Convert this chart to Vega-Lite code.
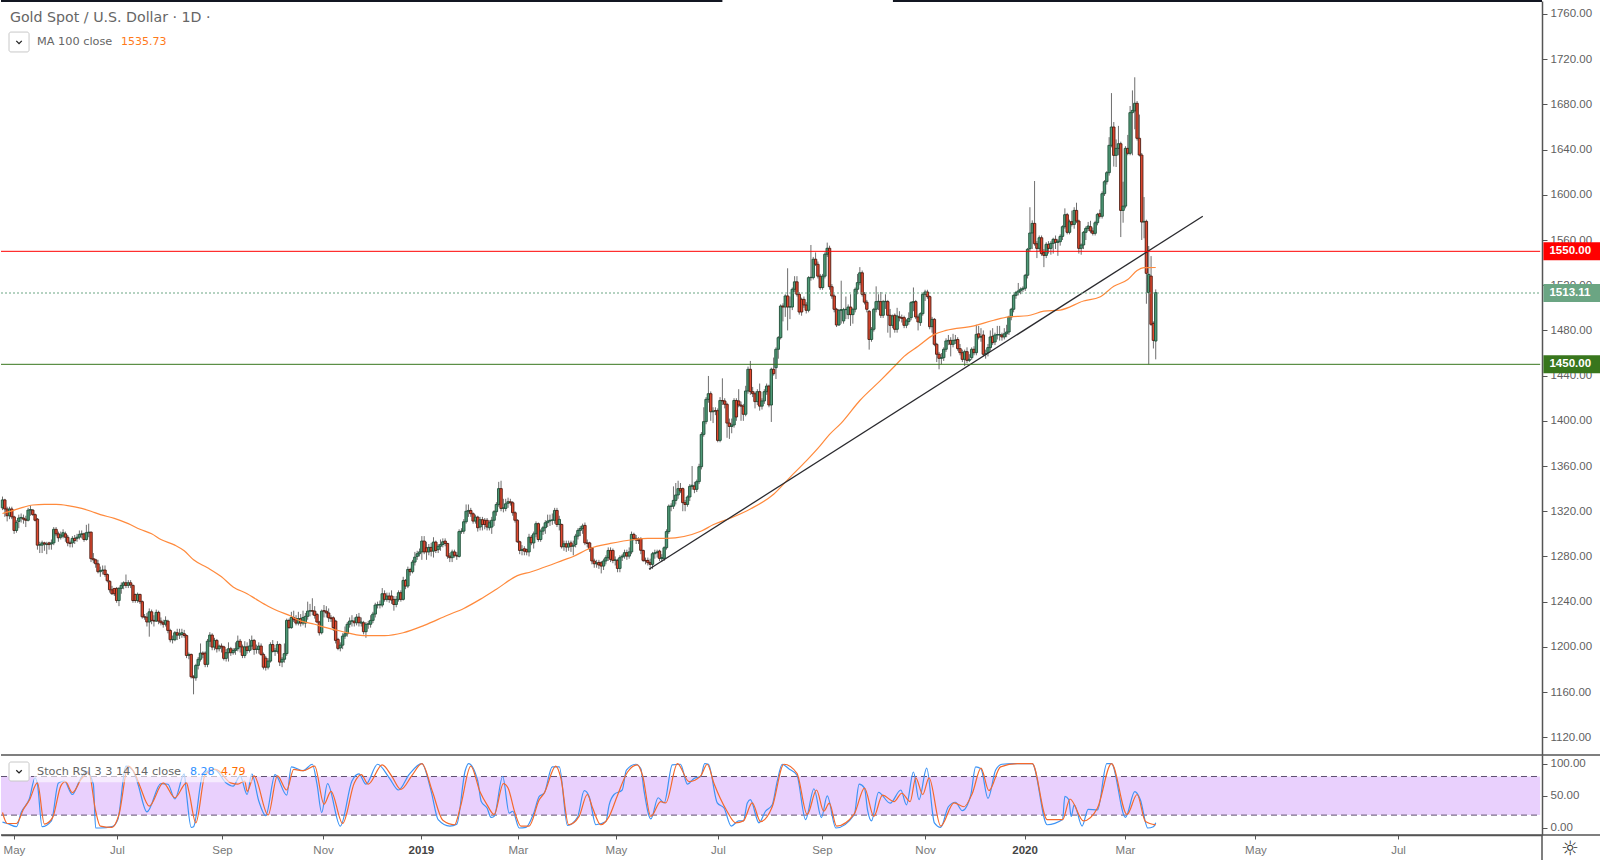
{"$schema":"https://vega.github.io/schema/vega-lite/v6.json","background":"white","padding":0,"spacing":0,"bounds":"flush","config":{"view":{"stroke":null},"axis":{"grid":false,"title":null}},
"datasets":{"candles":[
{"i":0,"o":1323,"h":1333,"l":1321,"c":1330},{"i":1,"o":1330,"h":1331,"l":1315,"c":1322},{"i":2,"o":1322,"h":1324,"l":1311,"c":1316},{"i":3,"o":1316,"h":1324,"l":1313,"c":1322},{"i":4,"o":1322,"h":1324,"l":1313,"c":1315},{"i":5,"o":1315,"h":1316,"l":1300,"c":1303},{"i":6,"o":1303,"h":1312,"l":1301,"c":1310},{"i":7,"o":1311,"h":1317,"l":1305,"c":1314},{"i":8,"o":1314,"h":1318,"l":1310,"c":1314.5},{"i":9,"o":1314,"h":1317,"l":1309,"c":1313},
{"i":10,"o":1313,"h":1316,"l":1306,"c":1312},{"i":11,"o":1312,"h":1323,"l":1311,"c":1321},{"i":12,"o":1321,"h":1325,"l":1316,"c":1321.5},{"i":13,"o":1321,"h":1322,"l":1316,"c":1317},{"i":14,"o":1317,"h":1318,"l":1311,"c":1312},{"i":15,"o":1313,"h":1314,"l":1286,"c":1290},{"i":16,"o":1290,"h":1293,"l":1283,"c":1290.5},{"i":17,"o":1290,"h":1294,"l":1283,"c":1292},{"i":18,"o":1292,"h":1293,"l":1285,"c":1291},{"i":19,"o":1290.5,"h":1293,"l":1282,"c":1291},
{"i":20,"o":1292,"h":1293,"l":1286,"c":1290.5},{"i":21,"o":1291,"h":1295,"l":1286,"c":1292},{"i":22,"o":1292,"h":1306,"l":1290,"c":1304},{"i":23,"o":1304,"h":1306,"l":1298,"c":1300},{"i":24,"o":1300,"h":1302,"l":1293,"c":1296.5},{"i":25,"o":1297,"h":1302,"l":1295,"c":1299},{"i":26,"o":1298,"h":1304,"l":1296,"c":1301},{"i":27,"o":1300,"h":1302,"l":1293,"c":1297},{"i":28,"o":1297,"h":1299,"l":1289,"c":1292},{"i":29,"o":1292,"h":1294,"l":1288,"c":1291.5},
{"i":30,"o":1292,"h":1298,"l":1288,"c":1296},{"i":31,"o":1296,"h":1299,"l":1291,"c":1294},{"i":32,"o":1296,"h":1300,"l":1293,"c":1297},{"i":33,"o":1297,"h":1303,"l":1295,"c":1299.5},{"i":34,"o":1299.5,"h":1303,"l":1296,"c":1300},{"i":35,"o":1300,"h":1301,"l":1293,"c":1295},{"i":36,"o":1295,"h":1308,"l":1294,"c":1301},{"i":37,"o":1301,"h":1309,"l":1297,"c":1301.5},{"i":38,"o":1301.5,"h":1302,"l":1275,"c":1278},{"i":39,"o":1278,"h":1283,"l":1274,"c":1277},
{"i":40,"o":1277,"h":1278,"l":1270,"c":1273.5},{"i":41,"o":1273.5,"h":1277,"l":1265,"c":1266.5},{"i":42,"o":1266.5,"h":1271,"l":1262,"c":1267.6},{"i":43,"o":1267.6,"h":1272,"l":1264,"c":1268},{"i":44,"o":1268,"h":1272,"l":1262,"c":1264},{"i":45,"o":1264,"h":1265,"l":1257,"c":1258.5},{"i":46,"o":1258,"h":1259,"l":1248,"c":1250.5},{"i":47,"o":1250.5,"h":1254,"l":1246,"c":1247},{"i":48,"o":1251.7,"h":1252,"l":1245,"c":1247},{"i":49,"o":1251.7,"h":1253,"l":1239,"c":1241},
{"i":50,"o":1241,"h":1253,"l":1236,"c":1251.7},{"i":51,"o":1251.7,"h":1257,"l":1247,"c":1254.4},{"i":52,"o":1254.4,"h":1258,"l":1251,"c":1256.7},{"i":53,"o":1256.7,"h":1264,"l":1252,"c":1254.4},{"i":54,"o":1254.4,"h":1259,"l":1252,"c":1256.7},{"i":55,"o":1256.7,"h":1259,"l":1252,"c":1254.7},{"i":56,"o":1254.4,"h":1255,"l":1239,"c":1241},{"i":57,"o":1246.4,"h":1247,"l":1239,"c":1241},{"i":58,"o":1241,"h":1248,"l":1239,"c":1246.4},{"i":59,"o":1246.4,"h":1247,"l":1238,"c":1240},
{"i":60,"o":1240,"h":1241,"l":1225,"c":1226.6},{"i":61,"o":1226.6,"h":1229,"l":1224,"c":1226.3},{"i":62,"o":1226.3,"h":1230,"l":1218,"c":1222},{"i":63,"o":1222,"h":1234,"l":1209,"c":1231},{"i":64,"o":1231,"h":1233,"l":1220,"c":1223.4},{"i":65,"o":1223.4,"h":1228,"l":1218,"c":1222.8},{"i":66,"o":1222.8,"h":1233,"l":1222,"c":1230.5},{"i":67,"o":1230.5,"h":1232,"l":1220,"c":1222.8},{"i":68,"o":1222.8,"h":1226,"l":1219,"c":1221.3},{"i":69,"o":1221.3,"h":1224,"l":1217,"c":1220},
{"i":70,"o":1220,"h":1227,"l":1218,"c":1223.4},{"i":71,"o":1222.8,"h":1224,"l":1212,"c":1214.5},{"i":72,"o":1214.5,"h":1216,"l":1204,"c":1206.3},{"i":73,"o":1206.3,"h":1210,"l":1203,"c":1206.5},{"i":74,"o":1206.3,"h":1214,"l":1205,"c":1212.5},{"i":75,"o":1212.5,"h":1216,"l":1206,"c":1210.4},{"i":76,"o":1210.4,"h":1216,"l":1207,"c":1211.6},{"i":77,"o":1211,"h":1216,"l":1208,"c":1212.5},{"i":78,"o":1211.6,"h":1215,"l":1208,"c":1210},{"i":79,"o":1210,"h":1211,"l":1190,"c":1192.4},
{"i":80,"o":1192.4,"h":1195,"l":1189,"c":1193.3},{"i":81,"o":1193.3,"h":1194,"l":1172,"c":1173.5},{"i":82,"o":1173.5,"h":1175,"l":1158,"c":1172.6},{"i":83,"o":1172.6,"h":1185,"l":1170,"c":1183.6},{"i":84,"o":1183.6,"h":1191,"l":1180,"c":1189},{"i":85,"o":1189,"h":1203,"l":1187,"c":1194.5},{"i":86,"o":1194.5,"h":1196,"l":1190,"c":1193.5},{"i":87,"o":1194.5,"h":1196,"l":1182,"c":1184.5},{"i":88,"o":1184.5,"h":1207,"l":1182,"c":1205},{"i":89,"o":1205,"h":1213,"l":1200,"c":1210.4},
{"i":90,"o":1210.4,"h":1212,"l":1197,"c":1199.8},{"i":91,"o":1199.8,"h":1208,"l":1197,"c":1205.7},{"i":92,"o":1205.7,"h":1207,"l":1195,"c":1198.3},{"i":93,"o":1198.3,"h":1202,"l":1196,"c":1200.7},{"i":94,"o":1200.7,"h":1203,"l":1195,"c":1200},{"i":95,"o":1200,"h":1201,"l":1188,"c":1189.8},{"i":96,"o":1189.8,"h":1198,"l":1187,"c":1194.8},{"i":97,"o":1194.8,"h":1204,"l":1187,"c":1198.3},{"i":98,"o":1198.3,"h":1200,"l":1192,"c":1194.8},{"i":99,"o":1194.8,"h":1199,"l":1193,"c":1196.8},
{"i":100,"o":1196.8,"h":1204,"l":1193,"c":1198.3},{"i":101,"o":1198.3,"h":1210,"l":1196,"c":1205},{"i":102,"o":1205,"h":1207,"l":1195,"c":1200},{"i":103,"o":1200,"h":1202,"l":1190,"c":1192.4},{"i":104,"o":1192.4,"h":1205,"l":1190,"c":1200},{"i":105,"o":1200,"h":1204,"l":1194,"c":1196.8},{"i":106,"o":1196.8,"h":1207,"l":1195,"c":1200.7},{"i":107,"o":1200.7,"h":1210,"l":1197,"c":1205.7},{"i":108,"o":1205.7,"h":1207,"l":1193,"c":1197.7},{"i":109,"o":1197.7,"h":1202,"l":1194,"c":1198},
{"i":110,"o":1197.7,"h":1204,"l":1194,"c":1200.7},{"i":111,"o":1200.7,"h":1203,"l":1192,"c":1193.3},{"i":112,"o":1193.3,"h":1195,"l":1180,"c":1182},{"i":113,"o":1190,"h":1192,"l":1179,"c":1182},{"i":114,"o":1182,"h":1190,"l":1180,"c":1187.4},{"i":115,"o":1187.4,"h":1204,"l":1186,"c":1202},{"i":116,"o":1202,"h":1206,"l":1195,"c":1196},{"i":117,"o":1196,"h":1199,"l":1192,"c":1196.5},{"i":118,"o":1196,"h":1205,"l":1194,"c":1202},{"i":119,"o":1202,"h":1203,"l":1183,"c":1186.5},
{"i":120,"o":1186.5,"h":1191,"l":1182,"c":1189},{"i":121,"o":1189,"h":1203,"l":1186,"c":1194},{"i":122,"o":1194,"h":1225,"l":1192,"c":1223.4},{"i":123,"o":1223.4,"h":1225,"l":1216,"c":1217},{"i":124,"o":1217,"h":1231,"l":1216,"c":1226},{"i":125,"o":1226,"h":1232,"l":1222,"c":1224},{"i":126,"o":1225,"h":1228,"l":1219,"c":1221},{"i":127,"o":1221,"h":1231,"l":1219,"c":1225},{"i":128,"o":1225,"h":1229,"l":1218,"c":1221},{"i":129,"o":1221,"h":1232,"l":1219,"c":1226},
{"i":130,"o":1221,"h":1230,"l":1217,"c":1227},{"i":131,"o":1227,"h":1240,"l":1224,"c":1231.6},{"i":132,"o":1231.6,"h":1238,"l":1227,"c":1232},{"i":133,"o":1232,"h":1243,"l":1228,"c":1231.6},{"i":134,"o":1231.6,"h":1236,"l":1225,"c":1227.8},{"i":135,"o":1228.7,"h":1230,"l":1221,"c":1222},{"i":136,"o":1222,"h":1223,"l":1210,"c":1212.5},{"i":137,"o":1212.5,"h":1233,"l":1211,"c":1231.6},{"i":138,"o":1232,"h":1237,"l":1226,"c":1231.6},{"i":139,"o":1231.6,"h":1236,"l":1226,"c":1230},
{"i":140,"o":1230,"h":1234,"l":1222,"c":1225.7},{"i":141,"o":1225.7,"h":1228,"l":1222,"c":1225},{"i":142,"o":1225.7,"h":1227,"l":1214,"c":1217},{"i":143,"o":1222.8,"h":1224,"l":1203,"c":1205.7},{"i":144,"o":1206.6,"h":1208,"l":1197,"c":1198.6},{"i":145,"o":1199,"h":1204,"l":1196,"c":1201.5},{"i":146,"o":1201.5,"h":1212,"l":1198,"c":1209.5},{"i":147,"o":1209.5,"h":1218,"l":1207,"c":1211.6},{"i":148,"o":1211.6,"h":1222,"l":1209,"c":1220},{"i":149,"o":1220,"h":1226,"l":1217,"c":1222.8},
{"i":150,"o":1222.8,"h":1228,"l":1218,"c":1223},{"i":151,"o":1222.8,"h":1226,"l":1218,"c":1221.3},{"i":152,"o":1221.3,"h":1229,"l":1219,"c":1226.3},{"i":153,"o":1226.3,"h":1230,"l":1218,"c":1221.3},{"i":154,"o":1221,"h":1226,"l":1218,"c":1222},{"i":155,"o":1221.3,"h":1223,"l":1211,"c":1213.4},{"i":156,"o":1213.4,"h":1222,"l":1208,"c":1220},{"i":157,"o":1220,"h":1223,"l":1216,"c":1220.4},{"i":158,"o":1220,"h":1228,"l":1217,"c":1223.4},{"i":159,"o":1223.4,"h":1231,"l":1221,"c":1229},
{"i":160,"o":1229,"h":1239,"l":1226,"c":1237},{"i":161,"o":1237,"h":1240,"l":1234,"c":1237.3},{"i":162,"o":1237,"h":1241,"l":1234,"c":1237.5},{"i":163,"o":1237,"h":1252,"l":1235,"c":1247},{"i":164,"o":1247,"h":1250,"l":1240,"c":1242},{"i":165,"o":1242,"h":1248,"l":1240,"c":1245},{"i":166,"o":1245,"h":1248,"l":1239,"c":1242},{"i":167,"o":1245,"h":1250,"l":1238,"c":1241.4},{"i":168,"o":1242,"h":1245,"l":1232,"c":1237.5},{"i":169,"o":1237.5,"h":1245,"l":1235,"c":1242},
{"i":170,"o":1242,"h":1250,"l":1240,"c":1247.9},{"i":171,"o":1247.9,"h":1250,"l":1240,"c":1242},{"i":172,"o":1242,"h":1262,"l":1241,"c":1258.8},{"i":173,"o":1258.8,"h":1260,"l":1251,"c":1253.8},{"i":174,"o":1253.8,"h":1271,"l":1252,"c":1268.5},{"i":175,"o":1268.5,"h":1270,"l":1263,"c":1266.5},{"i":176,"o":1266.5,"h":1277,"l":1265,"c":1275},{"i":177,"o":1275,"h":1284,"l":1272,"c":1279.4},{"i":178,"o":1280,"h":1285,"l":1277,"c":1282.4},{"i":179,"o":1282.4,"h":1287,"l":1280,"c":1284},
{"i":180,"o":1284,"h":1298,"l":1277,"c":1293.6},{"i":181,"o":1293.6,"h":1298,"l":1282,"c":1284},{"i":182,"o":1287.7,"h":1293,"l":1277,"c":1284},{"i":183,"o":1284,"h":1291,"l":1281,"c":1288},{"i":184,"o":1288,"h":1292,"l":1280,"c":1284.7},{"i":185,"o":1284.7,"h":1297,"l":1279,"c":1292.7},{"i":186,"o":1292.7,"h":1294,"l":1283,"c":1285.3},{"i":187,"o":1286,"h":1291,"l":1283,"c":1289},{"i":188,"o":1289,"h":1295,"l":1285,"c":1290.6},{"i":189,"o":1290.6,"h":1296,"l":1288,"c":1293},
{"i":190,"o":1293.6,"h":1296,"l":1289,"c":1291.5},{"i":191,"o":1291.5,"h":1292,"l":1278,"c":1280.3},{"i":192,"o":1280.3,"h":1283,"l":1275,"c":1278.9},{"i":193,"o":1278.9,"h":1286,"l":1275,"c":1284},{"i":194,"o":1284,"h":1286,"l":1279,"c":1281},{"i":195,"o":1281,"h":1284,"l":1277,"c":1280.3},{"i":196,"o":1280,"h":1304,"l":1279,"c":1302},{"i":197,"o":1302,"h":1305,"l":1300,"c":1302.4},{"i":198,"o":1302.4,"h":1313,"l":1300,"c":1310.7},{"i":199,"o":1310.7,"h":1326,"l":1309,"c":1320},
{"i":200,"o":1320,"h":1326,"l":1315,"c":1320.7},{"i":201,"o":1320.7,"h":1323,"l":1315,"c":1317.8},{"i":202,"o":1317.8,"h":1319,"l":1309,"c":1311.3},{"i":203,"o":1311.3,"h":1317,"l":1309,"c":1314.8},{"i":204,"o":1314.8,"h":1316,"l":1302,"c":1305.4},{"i":205,"o":1306,"h":1315,"l":1303,"c":1312.5},{"i":206,"o":1312.5,"h":1315,"l":1303,"c":1308.3},{"i":207,"o":1312,"h":1314,"l":1304,"c":1308.3},{"i":208,"o":1312,"h":1314,"l":1303,"c":1306},{"i":209,"o":1305.4,"h":1312,"l":1303,"c":1309.8},
{"i":210,"o":1306,"h":1315,"l":1300,"c":1312},{"i":211,"o":1312,"h":1321,"l":1307,"c":1319.6},{"i":212,"o":1319.6,"h":1328,"l":1316,"c":1326},{"i":213,"o":1326,"h":1346,"l":1324,"c":1340},{"i":214,"o":1340,"h":1347,"l":1320,"c":1322.5},{"i":215,"o":1322.5,"h":1331,"l":1319,"c":1323},{"i":216,"o":1322.5,"h":1331,"l":1320,"c":1326.6},{"i":217,"o":1327,"h":1332,"l":1323,"c":1328.4},{"i":218,"o":1328.4,"h":1331,"l":1325,"c":1327.5},{"i":219,"o":1327.5,"h":1329,"l":1316,"c":1318.7},
{"i":220,"o":1318.7,"h":1320,"l":1310,"c":1312},{"i":221,"o":1312,"h":1313,"l":1292,"c":1293},{"i":222,"o":1293,"h":1294,"l":1282,"c":1285.3},{"i":223,"o":1285.3,"h":1290,"l":1281,"c":1286.2},{"i":224,"o":1286.8,"h":1289,"l":1281,"c":1284.7},{"i":225,"o":1286,"h":1287,"l":1281,"c":1284},{"i":226,"o":1284,"h":1300,"l":1280,"c":1297},{"i":227,"o":1297,"h":1299,"l":1290,"c":1292},{"i":228,"o":1292,"h":1302,"l":1287,"c":1300},{"i":229,"o":1300,"h":1311,"l":1297,"c":1309},
{"i":230,"o":1309,"h":1310,"l":1293,"c":1295},{"i":231,"o":1295,"h":1304,"l":1293,"c":1302.4},{"i":232,"o":1302.4,"h":1307,"l":1299,"c":1305.4},{"i":233,"o":1305.4,"h":1312,"l":1300,"c":1309.8},{"i":234,"o":1309.8,"h":1317,"l":1306,"c":1311.3},{"i":235,"o":1311.3,"h":1317,"l":1307,"c":1312},{"i":236,"o":1312,"h":1318,"l":1308,"c":1312.3},{"i":237,"o":1312,"h":1323,"l":1309,"c":1320.7},{"i":238,"o":1320.7,"h":1323,"l":1306,"c":1308.3},{"i":239,"o":1308.3,"h":1316,"l":1303,"c":1312.8},
{"i":240,"o":1308.3,"h":1309,"l":1287,"c":1288.6},{"i":241,"o":1288.6,"h":1294,"l":1285,"c":1291.2},{"i":242,"o":1291.2,"h":1294,"l":1284,"c":1288.3},{"i":243,"o":1288.3,"h":1294,"l":1285,"c":1291.2},{"i":244,"o":1292,"h":1294,"l":1284,"c":1289},{"i":245,"o":1289,"h":1294,"l":1281,"c":1290},{"i":246,"o":1290.6,"h":1300,"l":1288,"c":1298},{"i":247,"o":1298,"h":1305,"l":1295,"c":1303},{"i":248,"o":1303,"h":1307,"l":1298,"c":1304.8},{"i":249,"o":1304.8,"h":1309,"l":1300,"c":1307},
{"i":250,"o":1307.5,"h":1310,"l":1290,"c":1292},{"i":251,"o":1292,"h":1295,"l":1288,"c":1291.5},{"i":252,"o":1292,"h":1293,"l":1284,"c":1286.8},{"i":253,"o":1287.7,"h":1288,"l":1273,"c":1276},{"i":254,"o":1276,"h":1278,"l":1270,"c":1273.5},{"i":255,"o":1273.5,"h":1277,"l":1270,"c":1274.4},{"i":256,"o":1274.7,"h":1277,"l":1269,"c":1272.4},{"i":257,"o":1274.4,"h":1276,"l":1265,"c":1271.5},{"i":258,"o":1271.5,"h":1278,"l":1268,"c":1276},{"i":259,"o":1276,"h":1281,"l":1273,"c":1278.9},
{"i":260,"o":1278.9,"h":1288,"l":1276,"c":1285.3},{"i":261,"o":1285.3,"h":1288,"l":1275,"c":1277.4},{"i":262,"o":1285.3,"h":1287,"l":1274,"c":1276.5},{"i":263,"o":1276.5,"h":1280,"l":1272,"c":1277},{"i":264,"o":1276.5,"h":1278,"l":1266,"c":1269.4},{"i":265,"o":1269.4,"h":1281,"l":1266,"c":1278.9},{"i":266,"o":1279.4,"h":1282,"l":1276,"c":1280.3},{"i":267,"o":1280.3,"h":1286,"l":1278,"c":1283.3},{"i":268,"o":1283.3,"h":1286,"l":1277,"c":1280.3},{"i":269,"o":1280.3,"h":1288,"l":1278,"c":1284},
{"i":270,"o":1284,"h":1302,"l":1282,"c":1299.5},{"i":271,"o":1299.5,"h":1301,"l":1294,"c":1296},{"i":272,"o":1296,"h":1299,"l":1291,"c":1294.5},{"i":273,"o":1295,"h":1297,"l":1291,"c":1294},{"i":274,"o":1295.7,"h":1297,"l":1282,"c":1285.4},{"i":275,"o":1285.3,"h":1286,"l":1275,"c":1276.5},{"i":276,"o":1276.5,"h":1279,"l":1273,"c":1276},{"i":277,"o":1276.5,"h":1279,"l":1272,"c":1274.5},{"i":278,"o":1274.5,"h":1278,"l":1268,"c":1273},{"i":279,"o":1273,"h":1284,"l":1269,"c":1282.4},
{"i":280,"o":1282.4,"h":1286,"l":1278,"c":1283.3},{"i":281,"o":1283.3,"h":1286,"l":1279,"c":1284},{"i":282,"o":1284.8,"h":1286,"l":1276,"c":1278.3},{"i":283,"o":1278,"h":1282,"l":1275,"c":1279},{"i":284,"o":1278.3,"h":1289,"l":1276,"c":1287.7},{"i":285,"o":1287.7,"h":1304,"l":1286,"c":1302},{"i":286,"o":1302,"h":1326,"l":1300,"c":1324.5},{"i":287,"o":1324.3,"h":1327,"l":1320,"c":1324.6},{"i":288,"o":1324.5,"h":1342,"l":1322,"c":1329.6},{"i":289,"o":1329.6,"h":1345,"l":1326,"c":1334.4},
{"i":290,"o":1334.4,"h":1347,"l":1331,"c":1340},{"i":291,"o":1340,"h":1345,"l":1336,"c":1338},{"i":292,"o":1340,"h":1341,"l":1320,"c":1327.6},{"i":293,"o":1327.6,"h":1330,"l":1320,"c":1326},{"i":294,"o":1326,"h":1334,"l":1324,"c":1332.6},{"i":295,"o":1332.6,"h":1344,"l":1329,"c":1342},{"i":296,"o":1342,"h":1360,"l":1339,"c":1343},{"i":297,"o":1342.3,"h":1346,"l":1336,"c":1339.4},{"i":298,"o":1339.4,"h":1348,"l":1337,"c":1346.2},{"i":299,"o":1346.2,"h":1362,"l":1344,"c":1359.4},
{"i":300,"o":1359.4,"h":1390,"l":1357,"c":1388},{"i":301,"o":1388,"h":1412,"l":1386,"c":1399.3},{"i":302,"o":1399.3,"h":1421,"l":1397,"c":1419},{"i":303,"o":1419,"h":1439.7,"l":1416,"c":1424},{"i":304,"o":1424,"h":1426,"l":1400,"c":1408},{"i":305,"o":1408,"h":1412,"l":1398,"c":1408.7},{"i":306,"o":1409,"h":1412,"l":1405,"c":1408.7},{"i":307,"o":1409,"h":1411,"l":1381,"c":1382.7},{"i":308,"o":1382.7,"h":1421,"l":1381,"c":1418},{"i":309,"o":1418,"h":1437.6,"l":1414,"c":1417.6},
{"i":310,"o":1417.6,"h":1420,"l":1411,"c":1414.6},{"i":311,"o":1414.6,"h":1416,"l":1385,"c":1398},{"i":312,"o":1398,"h":1402,"l":1384,"c":1395},{"i":313,"o":1395,"h":1402,"l":1389,"c":1396.3},{"i":314,"o":1396.3,"h":1420,"l":1394,"c":1418},{"i":315,"o":1418,"h":1420,"l":1400,"c":1403.4},{"i":316,"o":1417.6,"h":1428,"l":1412,"c":1414},{"i":317,"o":1414,"h":1417,"l":1400,"c":1413},{"i":318,"o":1413,"h":1415,"l":1400,"c":1405.8},{"i":319,"o":1405.8,"h":1431,"l":1404,"c":1426.4},
{"i":320,"o":1426.4,"h":1448,"l":1424,"c":1445.6},{"i":321,"o":1445.6,"h":1453,"l":1423,"c":1425.8},{"i":322,"o":1425.8,"h":1430,"l":1421,"c":1424},{"i":323,"o":1424,"h":1426,"l":1411,"c":1417},{"i":324,"o":1417,"h":1428,"l":1414,"c":1425.8},{"i":325,"o":1425.8,"h":1433,"l":1409,"c":1413},{"i":326,"o":1413,"h":1420,"l":1410,"c":1417.6},{"i":327,"o":1417.6,"h":1428,"l":1415,"c":1425.8},{"i":328,"o":1425.8,"h":1433,"l":1423,"c":1430.8},{"i":329,"o":1430.8,"h":1432,"l":1412,"c":1414},
{"i":330,"o":1414,"h":1447,"l":1399,"c":1445.6},{"i":331,"o":1445.6,"h":1456,"l":1440,"c":1441.7},{"i":332,"o":1447,"h":1465,"l":1437,"c":1463.3},{"i":333,"o":1463.3,"h":1475,"l":1455,"c":1473.6},{"i":334,"o":1473.6,"h":1503,"l":1472,"c":1501.6},{"i":335,"o":1501.6,"h":1504,"l":1488,"c":1500.7},{"i":336,"o":1500.7,"h":1512,"l":1492,"c":1510.5},{"i":337,"o":1510.5,"h":1535,"l":1480,"c":1500.7},{"i":338,"o":1500.7,"h":1510,"l":1490,"c":1500.9},{"i":339,"o":1500.7,"h":1518,"l":1498,"c":1516.4},
{"i":340,"o":1516.4,"h":1528,"l":1514,"c":1523},{"i":341,"o":1523,"h":1528,"l":1510,"c":1512},{"i":342,"o":1512,"h":1514,"l":1494,"c":1496.3},{"i":343,"o":1507.5,"h":1509,"l":1493,"c":1496.3},{"i":344,"o":1507.5,"h":1510,"l":1500,"c":1502.5},{"i":345,"o":1502.5,"h":1505,"l":1495,"c":1497.8},{"i":346,"o":1497.8,"h":1528,"l":1496,"c":1526.7},{"i":347,"o":1526.7,"h":1555.6,"l":1524,"c":1527},{"i":348,"o":1526.7,"h":1545,"l":1525,"c":1543},{"i":349,"o":1543,"h":1549,"l":1537,"c":1538.5},
{"i":350,"o":1538.5,"h":1541,"l":1526,"c":1528},{"i":351,"o":1528,"h":1530,"l":1516,"c":1517.9},{"i":352,"o":1517.9,"h":1530,"l":1516,"c":1528},{"i":353,"o":1528,"h":1549,"l":1526,"c":1547.4},{"i":354,"o":1547.4,"h":1557.7,"l":1545,"c":1552.7},{"i":355,"o":1552.7,"h":1555,"l":1516,"c":1518.7},{"i":356,"o":1518.7,"h":1521,"l":1508,"c":1510.5},{"i":357,"o":1510.5,"h":1512,"l":1496,"c":1498.7},{"i":358,"o":1498.7,"h":1500,"l":1483,"c":1484.8},{"i":359,"o":1484.8,"h":1499,"l":1484,"c":1497.8},
{"i":360,"o":1497.8,"h":1524,"l":1486,"c":1498.4},{"i":361,"o":1488.4,"h":1500,"l":1486,"c":1498.4},{"i":362,"o":1498.4,"h":1510,"l":1490,"c":1498.7},{"i":363,"o":1494,"h":1503,"l":1490,"c":1500.7},{"i":364,"o":1500.7,"h":1512,"l":1484,"c":1494},{"i":365,"o":1494,"h":1500,"l":1486,"c":1498.7},{"i":366,"o":1498.7,"h":1518,"l":1496,"c":1516.4},{"i":367,"o":1516.4,"h":1530,"l":1512,"c":1522.3},{"i":368,"o":1522.3,"h":1536,"l":1520,"c":1531},{"i":369,"o":1531,"h":1533,"l":1510,"c":1512},
{"i":370,"o":1512,"h":1514,"l":1503,"c":1505},{"i":371,"o":1505,"h":1507,"l":1496,"c":1498.7},{"i":372,"o":1497,"h":1498,"l":1463,"c":1472},{"i":373,"o":1472,"h":1483,"l":1470,"c":1481},{"i":374,"o":1481,"h":1500,"l":1479,"c":1498.7},{"i":375,"o":1498.7,"h":1519,"l":1496,"c":1505.5},{"i":376,"o":1505.5,"h":1512,"l":1498,"c":1505.8},{"i":377,"o":1505.5,"h":1514,"l":1491,"c":1493.4},{"i":378,"o":1493.4,"h":1507,"l":1491,"c":1505.5},{"i":379,"o":1505.5,"h":1512,"l":1499,"c":1505.8},
{"i":380,"o":1505.5,"h":1507,"l":1478,"c":1493.4},{"i":381,"o":1493.4,"h":1499,"l":1473.6,"c":1484.5},{"i":382,"o":1484.5,"h":1494,"l":1482,"c":1492.8},{"i":383,"o":1493.4,"h":1495,"l":1478,"c":1481},{"i":384,"o":1481,"h":1500,"l":1478,"c":1492.8},{"i":385,"o":1492,"h":1497,"l":1488,"c":1491.3},{"i":386,"o":1491.3,"h":1494,"l":1487,"c":1490.7},{"i":387,"o":1491.3,"h":1493,"l":1482,"c":1484.5},{"i":388,"o":1484.5,"h":1490,"l":1482,"c":1488.4},{"i":389,"o":1487.8,"h":1496,"l":1485,"c":1490.7},
{"i":390,"o":1491.3,"h":1506,"l":1489,"c":1504.6},{"i":391,"o":1504.6,"h":1518,"l":1497,"c":1505.5},{"i":392,"o":1505.5,"h":1507,"l":1490,"c":1491.9},{"i":393,"o":1491.9,"h":1494,"l":1480,"c":1487.5},{"i":394,"o":1486.9,"h":1496,"l":1484,"c":1494.8},{"i":395,"o":1494.8,"h":1513,"l":1493,"c":1512},{"i":396,"o":1512,"h":1516,"l":1506,"c":1514},{"i":397,"o":1514,"h":1516,"l":1508,"c":1509.9},{"i":398,"o":1509.9,"h":1511,"l":1481,"c":1483.3},{"i":399,"o":1483.3,"h":1492,"l":1478,"c":1489.8},
{"i":400,"o":1489.8,"h":1491,"l":1466,"c":1467.7},{"i":401,"o":1467.7,"h":1469,"l":1452,"c":1458.9},{"i":402,"o":1458.9,"h":1461,"l":1445.6,"c":1455.3},{"i":403,"o":1455.3,"h":1460,"l":1450,"c":1455.9},{"i":404,"o":1455.9,"h":1465,"l":1453,"c":1463.3},{"i":405,"o":1463.3,"h":1473,"l":1461,"c":1470.7},{"i":406,"o":1470.7,"h":1476,"l":1467,"c":1471.2},{"i":407,"o":1471.2,"h":1474,"l":1457,"c":1467.7},{"i":408,"o":1467.7,"h":1477,"l":1465,"c":1471.2},{"i":409,"o":1471.2,"h":1476,"l":1468,"c":1471.5},
{"i":410,"o":1472,"h":1474,"l":1462,"c":1463.9},{"i":411,"o":1463.9,"h":1468,"l":1458,"c":1460.3},{"i":412,"o":1460.3,"h":1463,"l":1452,"c":1454.4},{"i":413,"o":1454.4,"h":1463,"l":1448.5,"c":1461.2},{"i":414,"o":1461.2,"h":1465,"l":1451,"c":1453.5},{"i":415,"o":1453.5,"h":1459,"l":1452,"c":1454.4},{"i":416,"o":1455.9,"h":1465,"l":1454,"c":1463.3},{"i":417,"o":1463.3,"h":1466,"l":1458,"c":1460.3},{"i":418,"o":1460.3,"h":1485,"l":1458,"c":1476.5},{"i":419,"o":1477,"h":1484,"l":1472,"c":1474},
{"i":420,"o":1474,"h":1482,"l":1470,"c":1474.6},{"i":421,"o":1476,"h":1480,"l":1457,"c":1458.9},{"i":422,"o":1458.9,"h":1463,"l":1455,"c":1459.4},{"i":423,"o":1460.3,"h":1468,"l":1457,"c":1464.8},{"i":424,"o":1464.8,"h":1480,"l":1462,"c":1474.2},{"i":425,"o":1474.8,"h":1482,"l":1467,"c":1469.2},{"i":426,"o":1469.8,"h":1478,"l":1467,"c":1476},{"i":427,"o":1476,"h":1484,"l":1472,"c":1476.3},{"i":428,"o":1476,"h":1484,"l":1471,"c":1476.3},{"i":429,"o":1476,"h":1478,"l":1471,"c":1474.2},
{"i":430,"o":1474.2,"h":1482,"l":1472,"c":1477},{"i":431,"o":1477,"h":1485,"l":1474,"c":1478.6},{"i":432,"o":1478.6,"h":1493,"l":1476,"c":1491.9},{"i":433,"o":1491.9,"h":1500,"l":1489,"c":1498.7},{"i":434,"o":1498.7,"h":1512,"l":1496,"c":1511},{"i":435,"o":1511,"h":1515,"l":1508,"c":1513.4},{"i":436,"o":1513.4,"h":1522,"l":1511,"c":1514.9},{"i":437,"o":1514.9,"h":1518,"l":1512,"c":1516.4},{"i":438,"o":1516.4,"h":1519,"l":1514,"c":1517.3},{"i":439,"o":1517.3,"h":1530,"l":1515,"c":1528.8},
{"i":440,"o":1528.8,"h":1553,"l":1526,"c":1551.8},{"i":441,"o":1552.3,"h":1589,"l":1550,"c":1566.2},{"i":442,"o":1566.2,"h":1577.4,"l":1552,"c":1574.7},{"i":443,"o":1574.7,"h":1612.2,"l":1555,"c":1556.7},{"i":444,"o":1556.7,"h":1559,"l":1544,"c":1552.6},{"i":445,"o":1552.6,"h":1564,"l":1550,"c":1562},{"i":446,"o":1562,"h":1564,"l":1546,"c":1547.9},{"i":447,"o":1548.8,"h":1552,"l":1536,"c":1546.4},{"i":448,"o":1546.4,"h":1558,"l":1544,"c":1556.2},{"i":449,"o":1556.2,"h":1559,"l":1548,"c":1552.6},
{"i":450,"o":1552.6,"h":1559,"l":1547,"c":1557},{"i":451,"o":1557,"h":1562,"l":1548,"c":1560.6},{"i":452,"o":1560.6,"h":1564,"l":1552,"c":1557.9},{"i":453,"o":1557.9,"h":1561,"l":1546,"c":1559},{"i":454,"o":1558.5,"h":1565,"l":1555,"c":1563.2},{"i":455,"o":1563.2,"h":1573,"l":1560,"c":1571.8},{"i":456,"o":1571.8,"h":1588,"l":1570,"c":1582.4},{"i":457,"o":1582.4,"h":1584,"l":1565,"c":1566.8},{"i":458,"o":1566.8,"h":1578,"l":1565,"c":1576.2},{"i":459,"o":1576.2,"h":1586,"l":1572,"c":1573.8},
{"i":460,"o":1573.8,"h":1589,"l":1570,"c":1586.2},{"i":461,"o":1586.2,"h":1593,"l":1575,"c":1576.8},{"i":462,"o":1576.8,"h":1578,"l":1548,"c":1552.6},{"i":463,"o":1552.6,"h":1557,"l":1547,"c":1555.6},{"i":464,"o":1555.6,"h":1568,"l":1552,"c":1566.8},{"i":465,"o":1566.8,"h":1572,"l":1560,"c":1570.3},{"i":466,"o":1570.3,"h":1576,"l":1568,"c":1572.4},{"i":467,"o":1571.8,"h":1577,"l":1566,"c":1568},{"i":468,"o":1568,"h":1571,"l":1564,"c":1565.9},{"i":469,"o":1565.9,"h":1577,"l":1564,"c":1575.3},
{"i":470,"o":1575.3,"h":1584,"l":1573,"c":1582.7},{"i":471,"o":1583.3,"h":1587,"l":1579,"c":1581},{"i":472,"o":1581,"h":1603,"l":1579,"c":1601},{"i":473,"o":1601,"h":1613,"l":1599,"c":1611.6},{"i":474,"o":1611.6,"h":1621,"l":1609,"c":1619.6},{"i":475,"o":1619.6,"h":1651,"l":1617,"c":1643.8},{"i":476,"o":1643.8,"h":1690,"l":1642,"c":1660},{"i":477,"o":1660,"h":1664.4,"l":1625,"c":1634.9},{"i":478,"o":1634.9,"h":1649,"l":1624.6,"c":1641.1},{"i":479,"o":1641.1,"h":1661,"l":1635,"c":1645.2},
{"i":480,"o":1645.2,"h":1647,"l":1562.6,"c":1586.2},{"i":481,"o":1586.2,"h":1611.6,"l":1575.3,"c":1590},{"i":482,"o":1590,"h":1643,"l":1588,"c":1641.1},{"i":483,"o":1641.1,"h":1653,"l":1635,"c":1636.7},{"i":484,"o":1636.7,"h":1678.6,"l":1635,"c":1672.7},{"i":485,"o":1672.7,"h":1692.4,"l":1635,"c":1674.7},{"i":486,"o":1674.2,"h":1704,"l":1658,"c":1681},{"i":487,"o":1681,"h":1683,"l":1648,"c":1650},{"i":488,"o":1650,"h":1671,"l":1634,"c":1635.2},{"i":489,"o":1635.2,"h":1637,"l":1560,"c":1575.9},
{"i":490,"o":1575.9,"h":1598,"l":1561.5,"c":1576.5},{"i":491,"o":1576.5,"h":1578,"l":1503.6,"c":1530.5},{"i":492,"o":1513.4,"h":1554.7,"l":1450,"c":1529.6},{"i":493,"o":1528.1,"h":1545.8,"l":1484,"c":1485.4},{"i":494,"o":1486.2,"h":1488,"l":1464,"c":1471.2},{"i":495,"o":1470.6,"h":1516.3,"l":1454.4,"c":1513.4}
],
"ma":[{"i":0,"v":1318},{"i":5,"v":1321},{"i":8,"v":1323},{"i":13,"v":1325.5},{"i":18,"v":1326},{"i":23,"v":1326},{"i":28,"v":1325},{"i":34,"v":1322.5},{"i":38,"v":1320},{"i":42,"v":1317},{"i":48,"v":1313.7},{"i":54,"v":1309},{"i":59,"v":1304},{"i":64,"v":1300},{"i":68,"v":1295},{"i":74,"v":1290},{"i":78,"v":1285},{"i":82,"v":1277},{"i":88,"v":1270},{"i":94,"v":1262},{"i":99,"v":1253},{"i":105,"v":1247},{"i":109,"v":1242},{"i":114,"v":1236},{"i":118,"v":1232},{"i":124,"v":1227},{"i":126.6,"v":1224},{"i":134,"v":1220},{"i":138,"v":1217.5},{"i":145,"v":1214},{"i":155,"v":1210},{"i":164,"v":1210},{"i":172,"v":1212.5},{"i":181,"v":1219},{"i":191,"v":1228},{"i":198,"v":1234},{"i":205,"v":1242},{"i":212,"v":1251},{"i":221,"v":1263},{"i":227,"v":1266.5},{"i":234,"v":1271.5},{"i":241,"v":1277},{"i":245,"v":1280},{"i":252,"v":1287},{"i":261,"v":1291.5},{"i":271,"v":1295},{"i":277,"v":1296},{"i":285,"v":1296},{"i":300,"v":1302.5},{"i":305,"v":1308},{"i":312.6,"v":1314},{"i":321,"v":1322},{"i":331,"v":1335},{"i":338,"v":1350},{"i":345,"v":1364.5},{"i":351,"v":1378},{"i":355,"v":1388},{"i":360,"v":1398},{"i":368,"v":1418},{"i":377,"v":1436},{"i":383,"v":1448.5},{"i":387,"v":1457},{"i":393,"v":1466},{"i":400,"v":1476.5},{"i":405,"v":1480},{"i":417,"v":1484},{"i":425.5,"v":1489},{"i":432,"v":1492},{"i":440,"v":1493},{"i":447,"v":1497},{"i":454,"v":1498},{"i":464,"v":1506},{"i":471,"v":1509.5},{"i":477,"v":1519},{"i":483,"v":1525},{"i":487,"v":1533},{"i":490,"v":1535.5},{"i":495,"v":1535.7}],
"k":[{"i":0,"v":9},{"i":2,"v":7},{"i":6,"v":2},{"i":8,"v":24},{"i":11.5,"v":45},{"i":14,"v":78},{"i":15,"v":68},{"i":17,"v":2},{"i":21,"v":11},{"i":24,"v":70},{"i":26.5,"v":73},{"i":30,"v":52},{"i":33,"v":73},{"i":36,"v":88},{"i":39,"v":68},{"i":40,"v":0},{"i":42,"v":0},{"i":47,"v":2},{"i":49.5,"v":13},{"i":53,"v":96},{"i":56,"v":89},{"i":58,"v":70},{"i":62,"v":25},{"i":68,"v":69},{"i":71,"v":68},{"i":74,"v":45},{"i":78,"v":84},{"i":79,"v":52},{"i":81,"v":1},{"i":82,"v":2},{"i":86,"v":83},{"i":91,"v":91},{"i":96,"v":70},{"i":99,"v":65},{"i":102,"v":81},{"i":105,"v":52},{"i":107,"v":84},{"i":110,"v":42},{"i":113,"v":19},{"i":117,"v":83},{"i":122,"v":51},{"i":124,"v":95},{"i":129,"v":89},{"i":133,"v":99},{"i":135,"v":68},{"i":137,"v":24},{"i":139.5,"v":69},{"i":145,"v":3},{"i":150,"v":73},{"i":153,"v":84},{"i":156,"v":68},{"i":161,"v":99},{"i":166,"v":78},{"i":170,"v":59},{"i":174.5,"v":83},{"i":180,"v":100},{"i":184,"v":57},{"i":187,"v":13},{"i":192,"v":3},{"i":195,"v":6},{"i":198.6,"v":89},{"i":200,"v":100},{"i":204,"v":73},{"i":205.5,"v":41},{"i":208,"v":31},{"i":209.7,"v":16.5},{"i":211,"v":18},{"i":214.7,"v":80},{"i":217.5,"v":23},{"i":219,"v":26},{"i":221.8,"v":0},{"i":224.7,"v":1},{"i":228,"v":23},{"i":230.4,"v":49},{"i":232.5,"v":54},{"i":236,"v":95},{"i":239,"v":95},{"i":242.5,"v":4},{"i":246.8,"v":16.5},{"i":249.7,"v":58},{"i":251.8,"v":49},{"i":254.7,"v":5},{"i":259,"v":10},{"i":260.4,"v":36},{"i":262.5,"v":52},{"i":266,"v":59},{"i":267.8,"v":90},{"i":271.8,"v":99},{"i":274,"v":92},{"i":275.4,"v":57},{"i":278.3,"v":14},{"i":281.4,"v":47},{"i":284,"v":39},{"i":287.5,"v":98},{"i":291,"v":99},{"i":294,"v":68},{"i":296.8,"v":77},{"i":299.7,"v":80},{"i":301.4,"v":100},{"i":303,"v":99},{"i":306.8,"v":39},{"i":309.7,"v":31},{"i":312.8,"v":3},{"i":316,"v":11},{"i":318,"v":11},{"i":319.7,"v":39},{"i":321,"v":44},{"i":324.7,"v":8},{"i":327.5,"v":26},{"i":330.4,"v":36},{"i":332.5,"v":72},{"i":334.7,"v":99},{"i":337.5,"v":92},{"i":341,"v":82},{"i":344.7,"v":13},{"i":348.3,"v":61},{"i":351.5,"v":16},{"i":354,"v":50},{"i":357.7,"v":0},{"i":365.6,"v":20.6},{"i":367.7,"v":68},{"i":370,"v":62},{"i":371.3,"v":28},{"i":373,"v":11},{"i":376,"v":55.4},{"i":381,"v":38.5},{"i":385.6,"v":59},{"i":388,"v":36},{"i":391,"v":87},{"i":393.4,"v":44},{"i":396.7,"v":93},{"i":400,"v":8},{"i":402.7,"v":1},{"i":406,"v":33},{"i":409,"v":40},{"i":412,"v":27},{"i":415.6,"v":51},{"i":417.7,"v":95},{"i":420,"v":92},{"i":423,"v":46},{"i":426.3,"v":90},{"i":429,"v":99},{"i":434,"v":100},{"i":442,"v":100},{"i":448.4,"v":5},{"i":455,"v":13},{"i":456,"v":49},{"i":457.7,"v":44},{"i":458.7,"v":18},{"i":460,"v":36},{"i":463.4,"v":3},{"i":466,"v":29},{"i":470,"v":28},{"i":474,"v":100},{"i":476,"v":100},{"i":482,"v":16.5},{"i":486,"v":56.5},{"i":488.4,"v":44},{"i":491.6,"v":0},{"i":494,"v":2},{"i":495,"v":8.28}],
"d":[{"i":0,"v":24},{"i":2,"v":7},{"i":6,"v":7},{"i":9,"v":29},{"i":11.5,"v":43},{"i":15,"v":70},{"i":18,"v":6},{"i":21.5,"v":16},{"i":25,"v":65},{"i":27,"v":72},{"i":30,"v":55},{"i":34,"v":77},{"i":37,"v":86},{"i":40,"v":26},{"i":42,"v":3},{"i":47,"v":1},{"i":50,"v":21},{"i":54,"v":96},{"i":57,"v":83},{"i":59,"v":65},{"i":63,"v":34},{"i":69,"v":70},{"i":74,"v":47},{"i":79,"v":70},{"i":80,"v":57},{"i":83,"v":8},{"i":87,"v":83},{"i":91.5,"v":91},{"i":98,"v":70},{"i":101,"v":68},{"i":104,"v":73},{"i":105,"v":57},{"i":108,"v":81},{"i":114,"v":20},{"i":118,"v":81},{"i":122,"v":59},{"i":125,"v":91},{"i":129,"v":89},{"i":134,"v":96},{"i":138,"v":37},{"i":141,"v":57},{"i":146,"v":7},{"i":151,"v":70},{"i":154,"v":83},{"i":157,"v":68},{"i":163,"v":98},{"i":167,"v":81},{"i":171,"v":60},{"i":176,"v":83},{"i":180,"v":100},{"i":184.5,"v":57},{"i":189,"v":12},{"i":194,"v":5},{"i":196.5,"v":32},{"i":201,"v":96},{"i":205,"v":56},{"i":208,"v":36},{"i":211,"v":21},{"i":215,"v":69},{"i":217,"v":62},{"i":220,"v":23},{"i":222.5,"v":3},{"i":226,"v":3},{"i":230.4,"v":44},{"i":232.5,"v":54},{"i":237.5,"v":96},{"i":239.7,"v":77},{"i":243,"v":5},{"i":247.5,"v":18},{"i":251,"v":52},{"i":253.3,"v":31},{"i":256.8,"v":5},{"i":260.4,"v":18},{"i":264,"v":51},{"i":268.3,"v":87},{"i":272.5,"v":98},{"i":274.7,"v":82},{"i":278.3,"v":18},{"i":282.5,"v":41},{"i":284.7,"v":39},{"i":289.7,"v":100},{"i":294.7,"v":72},{"i":299.7,"v":81},{"i":302.5,"v":99},{"i":305.4,"v":69},{"i":311,"v":26},{"i":314.7,"v":8},{"i":318,"v":11},{"i":321.8,"v":39},{"i":325.4,"v":10},{"i":330.4,"v":33},{"i":335.4,"v":99},{"i":341,"v":85},{"i":345.4,"v":21},{"i":349.4,"v":59},{"i":352.5,"v":26},{"i":354.9,"v":38.5},{"i":358,"v":3},{"i":365.6,"v":22},{"i":370,"v":62},{"i":374,"v":18},{"i":377.7,"v":51},{"i":382.7,"v":41},{"i":386,"v":54},{"i":389.6,"v":41},{"i":392,"v":78},{"i":395,"v":52},{"i":397.7,"v":78},{"i":402.7,"v":3},{"i":408.4,"v":39},{"i":412.7,"v":33},{"i":416.3,"v":54},{"i":420,"v":93},{"i":423.4,"v":58},{"i":428.4,"v":95},{"i":435.6,"v":100},{"i":442,"v":100},{"i":448.4,"v":13},{"i":455,"v":13},{"i":458.2,"v":45},{"i":464,"v":11},{"i":470,"v":31},{"i":476,"v":100},{"i":482.7,"v":21},{"i":487,"v":52},{"i":490.6,"v":10},{"i":495,"v":4.79}],
"trend":[{"i":277.5,"p":1268.6},{"i":515.2,"p":1581}]
},
"vconcat":[
{"width":1541,"height":754,
"layer":[
{"data":{"values":[{"a":-0.64,"b":309},{"a":382.2,"b":660.8}]},"mark":{"type":"rule","color":"#131722","strokeWidth":2,"clip":false},"encoding":{"x":{"field":"a","type":"quantitative","scale":{"domain":[-0.64,660.8],"nice":false,"zero":false,"padding":0},"axis":null},"x2":{"field":"b"},"y":{"datum":1771.5,"type":"quantitative","scale":{"domain":[1104.3,1771.5],"nice":false,"zero":false},"axis":{"orient":"right","values":[1120,1160,1200,1240,1280,1320,1360,1400,1440,1480,1520,1560,1600,1640,1680,1720,1760],"format":".2f","domainColor":"#555555","domainWidth":1.5,"tickColor":"#555555","tickSize":5,"labelColor":"#5f5f5f","labelFont":"Liberation Sans","labelFontSize":11.5,"labelPadding":3,"labelOverlap":false,"labelBound":false,"labelFlush":false}}}},
{"data":{"name":"candles"},"mark":{"type":"rule","color":"#6e6e6e","strokeWidth":1},"encoding":{"x":{"field":"i","type":"quantitative"},"y":{"field":"l","type":"quantitative"},"y2":{"field":"h"}}},
{"data":{"name":"candles"},"mark":{"type":"bar","size":2.4,"strokeWidth":0.9},"encoding":{"x":{"field":"i","type":"quantitative"},"y":{"field":"o","type":"quantitative"},"y2":{"field":"c"},"fill":{"condition":{"test":"datum.c>=datum.o","value":"#4f9a78"},"value":"#e2492f"},"stroke":{"condition":{"test":"datum.c>=datum.o","value":"#1f4f38"},"value":"#4e1c12"}}},
{"data":{"name":"ma"},"mark":{"type":"line","color":"#ff8a3c","strokeWidth":1.2,"interpolate":"monotone"},"encoding":{"x":{"field":"i","type":"quantitative"},"y":{"field":"v","type":"quantitative"}}},
{"data":{"name":"trend"},"mark":{"type":"line","color":"#2a2a2e","strokeWidth":1.3},"encoding":{"x":{"field":"i","type":"quantitative"},"y":{"field":"p","type":"quantitative"}}},
{"data":{"values":[{"p":1550}]},"mark":{"type":"rule","color":"#ff0000","strokeWidth":1},"encoding":{"x":{"datum":-0.64},"x2":{"datum":660},"y":{"field":"p","type":"quantitative"}}},
{"data":{"values":[{"p":1513.11}]},"mark":{"type":"rule","color":"#6ba583","strokeWidth":1,"strokeDash":[2,2]},"encoding":{"x":{"datum":-0.64},"x2":{"datum":660},"y":{"field":"p","type":"quantitative"}}},
{"data":{"values":[{"p":1450}]},"mark":{"type":"rule","color":"#38761d","strokeWidth":1},"encoding":{"x":{"datum":-0.64},"x2":{"datum":660},"y":{"field":"p","type":"quantitative"}}},
{"data":{"values":[{"a":1558,"b":1542}]},"mark":{"type":"rect","color":"#ff0000"},"encoding":{"x":{"datum":661.4},"x2":{"datum":686.7},"y":{"field":"a","type":"quantitative"},"y2":{"field":"b"}}},
{"data":{"values":[{"a":1521.1,"b":1505.1}]},"mark":{"type":"rect","color":"#6ba583"},"encoding":{"x":{"datum":661.4},"x2":{"datum":686.7},"y":{"field":"a","type":"quantitative"},"y2":{"field":"b"}}},
{"data":{"values":[{"a":1458,"b":1442}]},"mark":{"type":"rect","color":"#38761d"},"encoding":{"x":{"datum":661.4},"x2":{"datum":686.7},"y":{"field":"a","type":"quantitative"},"y2":{"field":"b"}}},
{"data":{"values":[{"p":1550,"t":"1550.00"},{"p":1513.11,"t":"1513.11"},{"p":1450,"t":"1450.00"}]},"mark":{"type":"text","align":"left","baseline":"middle","color":"white","font":"Liberation Sans","fontSize":11.5,"fontWeight":"bold"},"encoding":{"x":{"datum":664},"y":{"field":"p","type":"quantitative"},"text":{"field":"t"}}},
{"data":{"values":[{"t":"Gold Spot / U.S. Dollar · 1D ·"}]},"mark":{"type":"text","align":"left","baseline":"middle","color":"#666666","font":"DejaVu Sans","fontSize":14.2},"encoding":{"x":{"datum":3.2},"y":{"datum":1756.5},"text":{"field":"t"}}},
{"data":{"values":[{"a":1744,"b":1726.4}]},"mark":{"type":"rect","fill":"white","stroke":"#c8c8c8","cornerRadius":2,"strokeWidth":1},"encoding":{"x":{"datum":2.8},"x2":{"datum":11.4},"y":{"field":"a","type":"quantitative"},"y2":{"field":"b"}}},
{"data":{"values":[{"p":1735}]},"mark":{"type":"point","shape":"M-1,-0.5L0,0.5L1,-0.5","size":30,"filled":false,"stroke":"#222222","strokeWidth":1.3,"opacity":1},"encoding":{"x":{"datum":7.1},"y":{"field":"p","type":"quantitative"}}},
{"data":{"values":[{"t":"MA 100 close"}]},"mark":{"type":"text","align":"left","baseline":"middle","color":"#666666","font":"DejaVu Sans","fontSize":11.3},"encoding":{"x":{"datum":14.8},"y":{"datum":1734.8},"text":{"field":"t"}}},
{"data":{"values":[{"t":"1535.73"}]},"mark":{"type":"text","align":"left","baseline":"middle","color":"#ff7a1a","font":"DejaVu Sans","fontSize":11},"encoding":{"x":{"datum":50.9},"y":{"datum":1734.8},"text":{"field":"t"}}}
]},
{"width":1541,"height":80,
"layer":[
{"data":{"values":[{"a":20,"b":80}]},"mark":{"type":"rect","color":"#e9d0fd"},"encoding":{"x":{"datum":-0.64,"type":"quantitative","scale":{"domain":[-0.64,660.8],"nice":false,"zero":false,"padding":0},"axis":{"values":[4.9,49.1,94.2,137.6,179.6,221.2,263.3,307.1,351.7,396,438.7,481.8,537.8,599],"tickCount":20,"labelExpr":"['May','Jul','Sep','Nov','2019','Mar','May','Jul','Sep','Nov','2020','Mar','May','Jul'][indexof([4.9,49.1,94.2,137.6,179.6,221.2,263.3,307.1,351.7,396,438.7,481.8,537.8,599],datum.value)]","domainColor":"#555555","domainWidth":1.5,"tickColor":"#555555","tickSize":4,"labelColor":{"condition":{"test":"datum.value==179.6||datum.value==438.7","value":"#444444"},"value":"#777777"},"labelFontWeight":{"condition":{"test":"datum.value==179.6||datum.value==438.7","value":"bold"},"value":"normal"},"labelFont":"Liberation Sans","labelFontSize":11.5,"labelPadding":5,"labelOverlap":false,"labelFlush":false,"labelBound":false}},"x2":{"datum":660},"y":{"field":"a","type":"quantitative","scale":{"domain":[-10.9,113.4],"nice":false,"zero":false},"axis":{"orient":"right","values":[0,50,100],"tickCount":5,"format":".2f","domainColor":"#555555","domainWidth":1.5,"tickColor":"#555555","tickSize":5,"labelColor":"#5f5f5f","labelFont":"Liberation Sans","labelFontSize":11.5,"labelPadding":3,"labelOverlap":false,"labelBound":false,"labelFlush":false}},"y2":{"field":"b"}}},
{"data":{"values":[{"v":20},{"v":80}]},"mark":{"type":"rule","color":"#5f5070","strokeWidth":1,"strokeDash":[6,4]},"encoding":{"x":{"datum":-0.64},"x2":{"datum":660},"y":{"field":"v","type":"quantitative"}}},
{"data":{"name":"k"},"mark":{"type":"line","color":"#3d94f5","strokeWidth":1.2,"interpolate":"monotone"},"encoding":{"x":{"field":"i","type":"quantitative"},"y":{"field":"v","type":"quantitative"}}},
{"data":{"name":"d"},"mark":{"type":"line","color":"#f4692c","strokeWidth":1.2,"interpolate":"monotone"},"encoding":{"x":{"field":"i","type":"quantitative"},"y":{"field":"v","type":"quantitative"}}},
{"data":{"values":[{"a":102.5,"b":71}]},"mark":{"type":"rect","color":"white","opacity":0.6},"encoding":{"x":{"datum":13.5},"x2":{"datum":107},"y":{"field":"a","type":"quantitative"},"y2":{"field":"b"}}},
{"data":{"values":[{"a":102.5,"b":73}]},"mark":{"type":"rect","fill":"white","stroke":"#c8c8c8","cornerRadius":2,"strokeWidth":1},"encoding":{"x":{"datum":2.8},"x2":{"datum":11.4},"y":{"field":"a","type":"quantitative"},"y2":{"field":"b"}}},
{"data":{"values":[{"p":87.7}]},"mark":{"type":"point","shape":"M-1,-0.5L0,0.5L1,-0.5","size":30,"filled":false,"stroke":"#222222","strokeWidth":1.3,"opacity":1},"encoding":{"x":{"datum":7.1},"y":{"field":"p","type":"quantitative"}}},
{"data":{"values":[{"t":"Stoch RSI 3 3 14 14 close"}]},"mark":{"type":"text","align":"left","baseline":"middle","color":"#666666","font":"DejaVu Sans","fontSize":11.3},"encoding":{"x":{"datum":14.8},"y":{"datum":87.7},"text":{"field":"t"}}},
{"data":{"values":[{"t":"8.28"}]},"mark":{"type":"text","align":"left","baseline":"middle","color":"#2f8fff","font":"DejaVu Sans","fontSize":11},"encoding":{"x":{"datum":80.5},"y":{"datum":87.7},"text":{"field":"t"}}},
{"data":{"values":[{"t":"4.79"}]},"mark":{"type":"text","align":"left","baseline":"middle","color":"#ff6d00","font":"DejaVu Sans","fontSize":11},"encoding":{"x":{"datum":93.8},"y":{"datum":87.7},"text":{"field":"t"}}},
{"data":{"values":[{"v":113.4},{"v":-10.9}]},"mark":{"type":"rule","color":"#555555","strokeWidth":1.5},"encoding":{"x":{"datum":-0.64},"x2":{"datum":686.7},"y":{"field":"v","type":"quantitative"}}},
{"data":{"values":[{"a":-10.9,"b":-51}]},"mark":{"type":"rule","color":"#555555","strokeWidth":1.5},"encoding":{"x":{"datum":660.8},"y":{"field":"a","type":"quantitative"},"y2":{"field":"b"}}},
{"data":{"values":[{"t":"☼"}]},"mark":{"type":"text","align":"center","baseline":"middle","color":"#333333","font":"DejaVu Sans","fontSize":20},"encoding":{"x":{"datum":672.8},"y":{"datum":-32.6},"text":{"field":"t"}}}
]}
]}
